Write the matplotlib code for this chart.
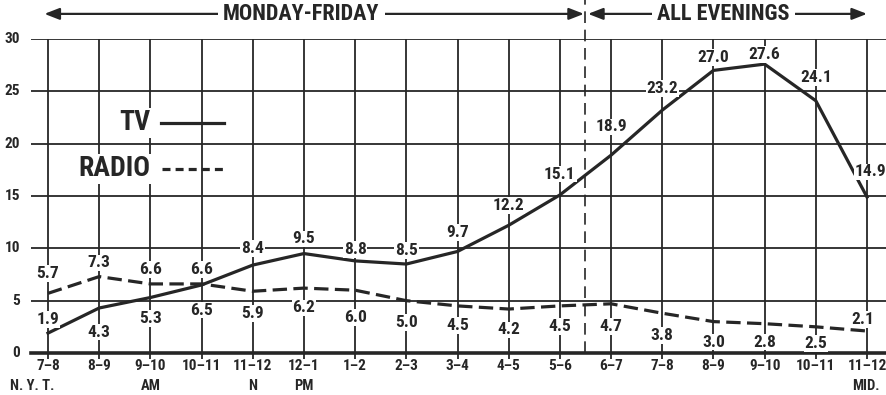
"""Audience share by hour: TV vs radio, weekday daytime and all evenings."""

import matplotlib

matplotlib.use("Agg")
import matplotlib.pyplot as plt  # noqa: E402

SLOTS = ["7–8", "8–9", "9–10", "10–11", "11–12", "12–1", "1–2", "2–3", "3–4",
         "4–5", "5–6", "6–7", "7–8", "8–9", "9–10", "10–11", "11–12"]
SUBLABELS = {0: "N. Y. T.", 2: "AM", 4: "N", 5: "PM", 16: "MID."}
TV = [1.9, 4.3, 5.3, 6.5, 8.4, 9.5, 8.8, 8.5, 9.7, 12.2, 15.1,
      18.9, 23.2, 27.0, 27.6, 24.1, 14.9]
RADIO = [5.7, 7.3, 6.6, 6.6, 5.9, 6.2, 6.0, 5.0, 4.5, 4.2, 4.5,
         4.7, 3.8, 3.0, 2.8, 2.5, 2.1]
YTICKS = [0, 5, 10, 15, 20, 25, 30]
SPLIT = 10.5  # boundary between weekday daytime and evenings

# vertical placement of the value labels relative to each point (data units)
TV_DY = [1.3, -2.3, -2.0, -2.4, 1.6, 1.4, 1.1, 1.3, 1.8, 1.9, 2.0,
         2.7, 2.1, 1.2, 0.9, 2.2, 2.4]
RADIO_DY = [1.9, 1.3, 1.4, 1.4, -2.1, -1.9, -2.6, -2.1, -1.9, -2.0, -2.0,
            -2.2, -2.1, -1.95, -1.75, -1.6, 1.1]
SUB_DX = {0: -0.31, 16: -0.02}

INK = "#262626"
plt.rcParams["font.family"] = ["Roboto Condensed", "Archivo Narrow",
                               "DejaVu Sans"]
plt.rcParams["font.weight"] = "bold"

W, H = 886, 395
fig = plt.figure(figsize=(W / 100, H / 100), dpi=100)
# axes box in pixels: x 31..886, y 39..353
ax = fig.add_axes([31 / W, (H - 353) / H, 855 / W, 314 / H])
px = 51.19  # pixels per slot
ax.set_xlim(-17 / px, 16 + 19 / px)
ax.set_ylim(0, 30)
for s in ax.spines.values():
    s.set_visible(False)
ax.set_xticks([])
ax.set_yticks([])

# grid
for y in YTICKS[1:]:
    ax.axhline(y, color=INK, lw=1.3, zorder=1)
ax.axhline(0, color=INK, lw=2.6, zorder=1, clip_on=False)
ax.vlines(range(len(SLOTS)), -0.6, 30, color=INK, lw=1.3, zorder=1,
          clip_on=False)
ax.vlines(SPLIT, 0, 33.7, color=INK, lw=1.2, linestyles=(0, (7, 4)),
          zorder=1, clip_on=False)

for y in YTICKS:
    ax.text(-0.55, y, str(y), ha="right", va="center", fontsize=11,
            color=INK, clip_on=False)

for i, s in enumerate(SLOTS):
    ax.text(i, -1.2, s, ha="center", va="center", fontsize=11, color=INK,
            clip_on=False)
for i, s in SUBLABELS.items():
    ax.text(i + SUB_DX.get(i, 0.0), -3.15, s, ha="center", va="center",
            fontsize=10.5, color=INK, clip_on=False)

xs = list(range(len(SLOTS)))
ax.plot(xs, TV, color=INK, lw=2.3, zorder=3)
ax.plot(xs, RADIO, color=INK, lw=2.3, zorder=3, linestyle=(0, (4.5, 2)))

box = dict(facecolor="white", edgecolor="none", pad=0.6)
for i, (v, dy) in enumerate(zip(TV, TV_DY)):
    dx = 0.07 if i == len(TV) - 1 else 0.0
    ax.text(i + dx, v + dy, f"{v:.1f}", ha="center", va="center",
            fontsize=12.5, color=INK, bbox=box, zorder=4, clip_on=False)
for i, (v, dy) in enumerate(zip(RADIO, RADIO_DY)):
    dx = -0.08 if i == len(RADIO) - 1 else 0.0
    ax.text(i + dx, v + dy, f"{v:.1f}", ha="center", va="center",
            fontsize=12.5, color=INK, bbox=box, zorder=4, clip_on=False)

# legend drawn inside the grid
lbox = dict(facecolor="white", edgecolor="none", pad=1)
ax.text(2.0, 22.0, "TV", ha="right", va="center", fontsize=20, color=INK,
        bbox=lbox, zorder=4)
ax.plot([2.2, 3.43], [22.0, 22.0], color=INK, lw=2.3, zorder=4)
ax.text(2.0, 17.6, "RADIO", ha="right", va="center", fontsize=20, color=INK,
        bbox=lbox, zorder=4)
ax.plot([2.22, 3.5], [17.6, 17.6], color=INK, lw=2.3, zorder=4,
        linestyle=(0, (2.5, 1.6)))

# period header with arrows
HY = 32.4
hbox = dict(facecolor="white", edgecolor="none", pad=4)
arrow = dict(arrowstyle="-|>,head_length=0.9,head_width=0.35", color=INK,
             lw=1.6, shrinkA=0, shrinkB=0)
ax.annotate("", xy=(-0.07, HY), xytext=(3.6, HY), arrowprops=arrow,
            annotation_clip=False)
ax.annotate("", xy=(SPLIT - 0.03, HY), xytext=(6.3, HY), arrowprops=arrow,
            annotation_clip=False)
ax.text(4.95, HY, "MONDAY-FRIDAY", ha="center", va="center", fontsize=16,
        color=INK, bbox=hbox, zorder=5, clip_on=False)
ax.annotate("", xy=(SPLIT + 0.05, HY), xytext=(11.9, HY), arrowprops=arrow,
            annotation_clip=False)
ax.annotate("", xy=(16.0, HY), xytext=(14.6, HY), arrowprops=arrow,
            annotation_clip=False)
ax.text(13.2, HY, "ALL EVENINGS", ha="center", va="center", fontsize=16,
        color=INK, bbox=hbox, zorder=5, clip_on=False)

fig.savefig("out.png", dpi=100)
